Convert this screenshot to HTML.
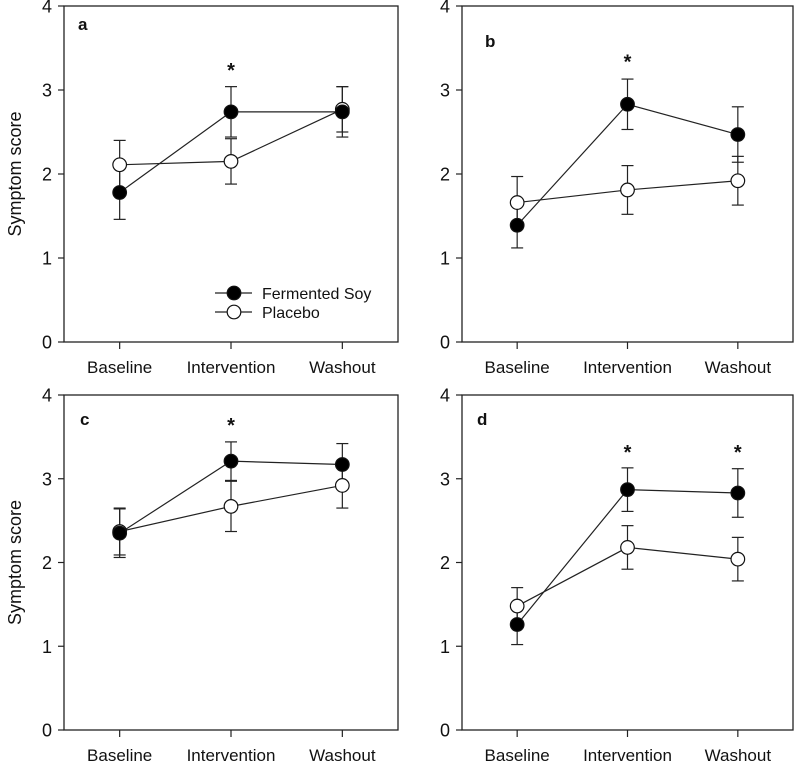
<!DOCTYPE html>
<html><head><meta charset="utf-8"><style>
body{margin:0;background:#fff}
svg{display:block;font-family:"Liberation Sans",Arial,sans-serif}
</style></head><body>
<svg id="fig" width="797" height="763"></svg>
<script>
const categories=["Baseline","Intervention","Washout"];
const yTicks=[0,1,2,3,4];
const panelNames=["a","b","c","d"];
const soyA=[1.78,2.74,2.74], soyAErr=[0.32,0.30,0.30];
const plaA=[2.11,2.15,2.77], plaAErr=[0.29,0.27,0.27];
const soyB=[1.39,2.83,2.47], soyBErr=[0.27,0.30,0.33];
const plaB=[1.66,1.81,1.92], plaBErr=[0.31,0.29,0.29];
const soyC=[2.35,3.21,3.17], soyCErr=[0.29,0.23,0.25];
const plaC=[2.37,2.67,2.92], plaCErr=[0.28,0.30,0.27];
const soyD=[1.26,2.87,2.83], soyDErr=[0.24,0.26,0.29];
const plaD=[1.48,2.18,2.04], plaDErr=[0.22,0.26,0.26];
const starsA=[1], starsB=[1], starsC=[1], starsD=[1,2];
const starY=[3.3,3.4,3.7,3.38];

const panels=[
 {l:64,r:398,t:6,b:342,soy:soyA,se:soyAErr,pla:plaA,pe:plaAErr,stars:starsA,lab:[78,30],ylab:true},
 {l:462,r:793,t:6,b:342,soy:soyB,se:soyBErr,pla:plaB,pe:plaBErr,stars:starsB,lab:[485,47],ylab:false},
 {l:64,r:398,t:395,b:730,soy:soyC,se:soyCErr,pla:plaC,pe:plaCErr,stars:starsC,lab:[80,425],ylab:true},
 {l:462,r:793,t:395,b:730,soy:soyD,se:soyDErr,pla:plaD,pe:plaDErr,stars:starsD,lab:[477,425],ylab:false}
];
const NS="http://www.w3.org/2000/svg";
const svg=document.getElementById('fig');
function mk(tag,attrs,parent,text){const e=document.createElementNS(NS,tag);for(const k in attrs)e.setAttribute(k,attrs[k]);if(text!==undefined)e.textContent=text;(parent||svg).appendChild(e);return e;}
panels.forEach((p,pi)=>{
 const g=mk('g',{});
 
 
 const xs=i=>p.l+(p.r-p.l)*(1+2*i)/6;
 const ys=v=>p.b-(p.b-p.t)*v/4;
 const box=mk('rect',{x:p.l,y:p.t,width:p.r-p.l,height:p.b-p.t,fill:'none',stroke:'#222','stroke-width':1.3},g);
 
 
 yTicks.forEach(v=>{
  mk('line',{x1:p.l-6,x2:p.l,y1:ys(v),y2:ys(v),stroke:'#222','stroke-width':1.2},g);
  const t=mk('text',{x:p.l-12,y:ys(v)+6.5,'text-anchor':'end','font-size':18,fill:'#111'},g,String(v));
  
  
 });
 categories.forEach((c,i)=>{
  const t=mk('text',{x:xs(i),y:p.b+31,'text-anchor':'middle','font-size':17,fill:'#111'},g,c);
  mk('line',{x1:xs(i),x2:xs(i),y1:p.b,y2:p.b+7,stroke:'#222','stroke-width':1.2},g);
  
  
 });
 if(p.ylab){
  const cy=(p.t+p.b)/2;
  const t=mk('text',{x:21,y:cy,'text-anchor':'middle','font-size':18,fill:'#111',transform:`rotate(-90 21 ${cy})`},g,'Symptom score');
  
  
 }
 const pl=mk('text',{x:p.lab[0],y:p.lab[1],'font-size':17,'font-weight':'bold',fill:'#111'},g,panelNames[pi]);
 
 
 [[p.soy,p.se,'#000','soy'],[p.pla,p.pe,'#fff','placebo']].forEach(([vals,errs,fill,nm])=>{
  const pts=vals.map((v,i)=>xs(i)+','+ys(v)).join(' ');
  const line=mk('polyline',{points:pts,fill:'none',stroke:'#222','stroke-width':1.2},g);
  
  
  vals.forEach((v,i)=>{
   const x=xs(i),y1=ys(v-errs[i]),y2=ys(v+errs[i]);
   mk('line',{x1:x,x2:x,y1:y1,y2:y2,stroke:'#222','stroke-width':1.2},g);
   mk('line',{x1:x-6,x2:x+6,y1:y1,y2:y1,stroke:'#222','stroke-width':1.2},g);
   mk('line',{x1:x-6,x2:x+6,y1:y2,y2:y2,stroke:'#222','stroke-width':1.2},g);
  });
 });
 [[p.pla,'#fff','placebo'],[p.soy,'#000','soy']].forEach(([vals,fill,nm])=>{
  vals.forEach((v,i)=>{
   const c=mk('circle',{cx:xs(i),cy:ys(v),r:6.8,fill:fill,stroke:'#111','stroke-width':1.2},g);
   
   
  });
 });
 p.stars.forEach(i=>{
  const s=mk('text',{x:xs(i),y:ys(starY[pi])+12,'text-anchor':'middle','font-size':20,'font-weight':'bold',fill:'#111'},g,'*');
  
  
 });
});
const lg=mk('g',{});


[['Fermented Soy','#000',293],['Placebo','#fff',312]].forEach(([lab,fill,y])=>{
 mk('line',{x1:215,x2:252,y1:y,y2:y,stroke:'#222','stroke-width':1.2},lg);
 mk('circle',{cx:234,cy:y,r:6.8,fill:fill,stroke:'#111','stroke-width':1.2},lg);
 const t=mk('text',{x:262,y:y+6,'font-size':16,fill:'#111'},lg,lab);
 
 
});
</script>
</body></html>
